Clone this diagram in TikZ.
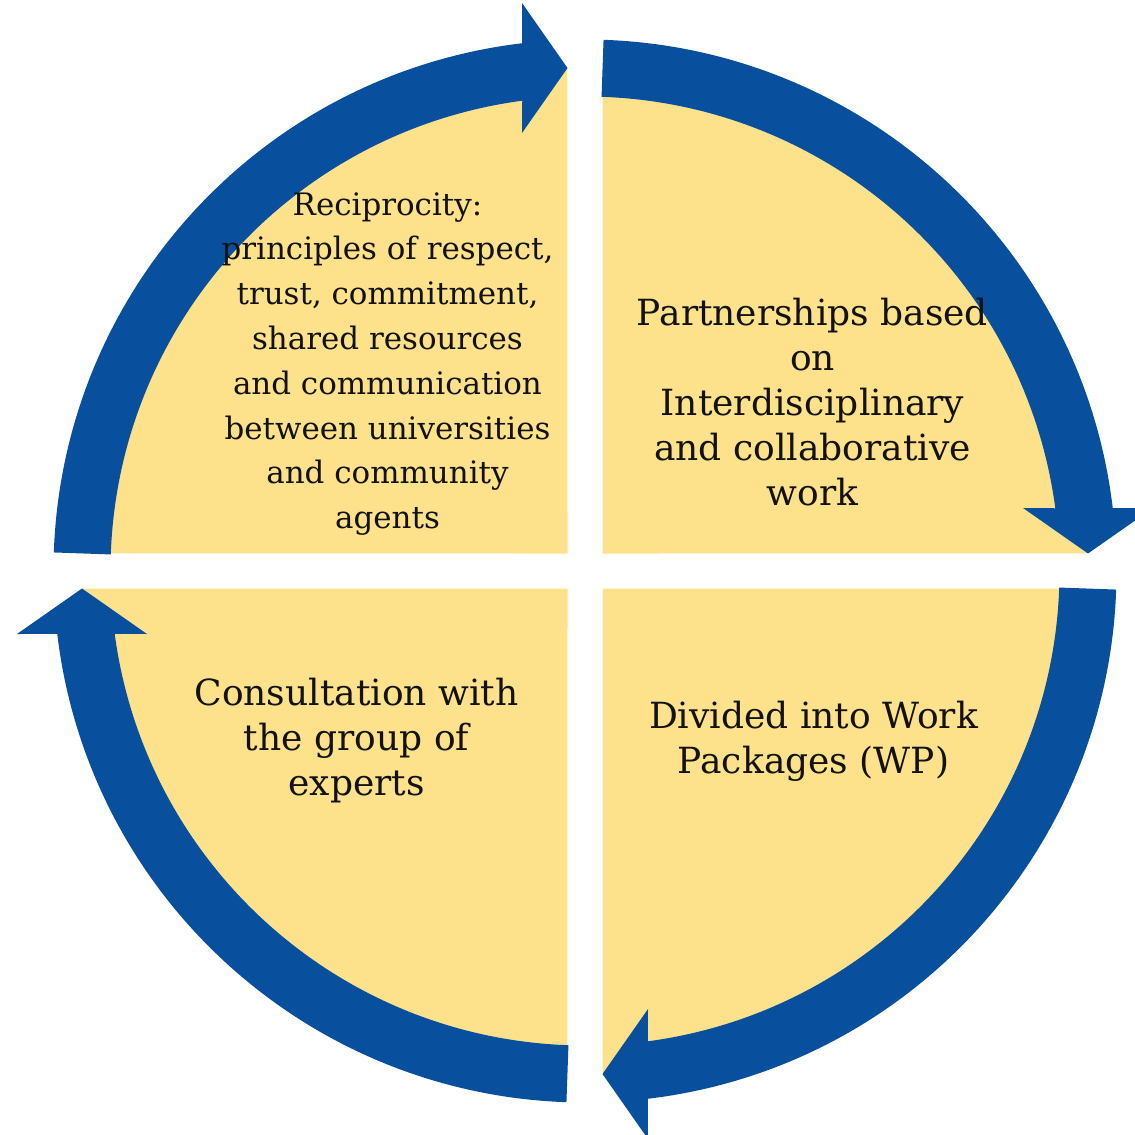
\documentclass[tikz,border=0pt]{standalone}
\usepackage{fontspec}
\setmainfont{DejaVu Serif}
\usepackage{tikz}

\definecolor{cycleblue}{RGB}{8,80,158}
\definecolor{cycleyellow}{RGB}{254,225,139}

\begin{document}
\begin{tikzpicture}[
    quadrant/.style={fill=cycleyellow},
    band/.style={fill=cycleblue},
    label/.style={align=center, text=black!93, font=\fontsize{10.25}{12.8}\selectfont},
    small label/.style={label, font=\fontsize{8.8}{12.75}\selectfont}
]
\useasboundingbox (-5.85,-5.63) rectangle (5.50,5.71);

% one quarter, turned round four times
\foreach \r in {0,-90,-180,-270} {
    \begin{scope}[rotate=\r]
        \fill[quadrant] (-0.175,0.175) -- (92:5.03) arc[start angle=92, end angle=178, radius=5.03] -- cycle;
        \fill[band] (178:5.315) arc[start angle=178, end angle=96.8, radius=5.315]
            -- (-0.63,5.68) -- (-0.175,5.03) -- (-0.63,4.38)
            -- (97.6:4.745) arc[start angle=97.6, end angle=178, radius=4.745] -- cycle;
    \end{scope}
}

\node[small label] (reciprocity) at (-1.975,2.07) {Reciprocity:\\principles of respect,\\trust, commitment,\\shared resources\\and communication\\between universities\\and community\\agents};
\node[label] (partnership) at (2.275,1.69) {Partnerships based\\on\\Interdisciplinary\\and collaborative\\work};
\node[label] (packages) at (2.285,-1.70) {Divided into Work\\Packages (WP)};
\node[label] (consultation) at (-2.285,-1.70) {Consultation with\\the group of\\experts};

\end{tikzpicture}
\end{document}
